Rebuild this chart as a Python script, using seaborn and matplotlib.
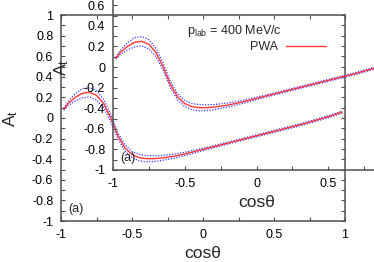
import numpy as np
import pandas as pd
import matplotlib
matplotlib.use("Agg")
import matplotlib.pyplot as plt
import seaborn as sns

# ---- data ----
cos_theta = [-0.98, -0.95, -0.90, -0.85, -0.80, -0.75, -0.70, -0.65, -0.60, -0.55,
             -0.50, -0.45, -0.40, -0.35, -0.30, -0.20, -0.10, 0.00, 0.10, 0.20,
             0.30, 0.40, 0.50, 0.60, 0.70, 0.80, 0.90, 0.98]
a_t = [0.085, 0.14, 0.20, 0.24, 0.25, 0.22, 0.14, 0.00, -0.17, -0.29,
       -0.355, -0.385, -0.395, -0.395, -0.39, -0.37, -0.34, -0.305, -0.27, -0.235,
       -0.20, -0.165, -0.13, -0.095, -0.06, -0.02, 0.02, 0.058]
a_t_err = [0.01, 0.02, 0.035, 0.045, 0.045, 0.045, 0.04, 0.035, 0.03, 0.03,
           0.03, 0.03, 0.03, 0.028, 0.025, 0.02, 0.015, 0.012, 0.01, 0.01,
           0.01, 0.01, 0.01, 0.01, 0.01, 0.01, 0.01, 0.01]
x_ticklabels = ["-1", "-0.5", "0", "0.5", "1"]
y_ticklabels = ["-1", "-0.8", "-0.6", "-0.4", "-0.2", "0", "0.2", "0.4", "0.6", "0.8", "1"]
series_label = "PWA"
panel_label = "(a)"
momentum_text = r"p$_{\rm lab}$ = 400 MeV/c"

df = pd.DataFrame({"cos": cos_theta, "At": a_t, "err": a_t_err})
df["upper"] = df["At"] + df["err"]
df["lower"] = df["At"] - df["err"]

sns.set_style("ticks")
plt.rcParams["font.family"] = ["Liberation Sans", "DejaVu Sans"]
plt.rcParams["mathtext.fontset"] = "custom"
plt.rcParams["mathtext.rm"] = "Liberation Sans"
plt.rcParams["mathtext.it"] = "Liberation Sans:italic"
plt.rcParams["axes.unicode_minus"] = False

W, H = 374, 262
fig = plt.figure(figsize=(W / 100, H / 100), dpi=100)

RED = "#ff3535"
BLUE = "#3a3aff"
SPINE = "#505050"


def make_axes(rect, legend):
    ax = fig.add_axes(rect)
    ax.set_facecolor("none")
    sns.lineplot(data=df, x="cos", y="upper", ax=ax, color=BLUE, lw=0.9,
                 linestyle=(0, (1, 1.2)), legend=False)
    sns.lineplot(data=df, x="cos", y="lower", ax=ax, color=BLUE, lw=0.9,
                 linestyle=(0, (1, 1.2)), legend=False)
    sns.lineplot(data=df, x="cos", y="At", ax=ax, color=RED, lw=1.0,
                 label=series_label if legend else None, legend=False)
    ax.set_xlim(-1, 1)
    ax.set_ylim(-1, 1)
    ax.set_xticks(np.linspace(-1, 1, 5))
    ax.set_xticklabels(x_ticklabels)
    ax.set_xticks(np.linspace(-1, 1, 9), minor=True)
    ax.set_yticks(np.linspace(-1, 1, 11))
    ax.set_yticklabels(y_ticklabels)
    ax.set_yticks(np.linspace(-1, 1, 21), minor=True)
    for which in ("major", "minor"):
        ax.tick_params(axis="both", which=which, direction="in", length=3.2,
                       width=0.8, colors=SPINE, top=True, right=True,
                       labelcolor="black", labelsize=9, pad=5.5)
    for s in ax.spines.values():
        s.set_color(SPINE)
        s.set_linewidth(1.1)
    ax.set_xlabel("cosθ", fontsize=12.5)
    ax.set_ylabel("A$_{\\rm t}$", fontsize=12.5)
    ax.xaxis.set_label_coords(0.5, -0.12)
    ax.yaxis.set_label_coords(-0.145, 0.5)
    ax.text(0.025, 0.03, panel_label, transform=ax.transAxes, fontsize=9,
            ha="left", va="bottom")
    if legend:
        ax.text(0.444, 0.922, momentum_text, transform=ax.transAxes,
                fontsize=9, ha="left", va="center")
        ax.legend(loc="center", bbox_to_anchor=(0.80, 0.845),
                  frameon=False, markerfirst=False, fontsize=9,
                  handlelength=3.2, borderpad=0, borderaxespad=0,
                  handletextpad=0.6)
    return ax


# outer panel
ax_outer = make_axes([61 / W, (H - 221) / H, 284 / W, 206 / H], legend=True)
# inner (offset) panel
ax_inner = make_axes([113 / W, (H - 170) / H, 287 / W, 206 / H], legend=False)

fig.savefig("out.png", dpi=100)
